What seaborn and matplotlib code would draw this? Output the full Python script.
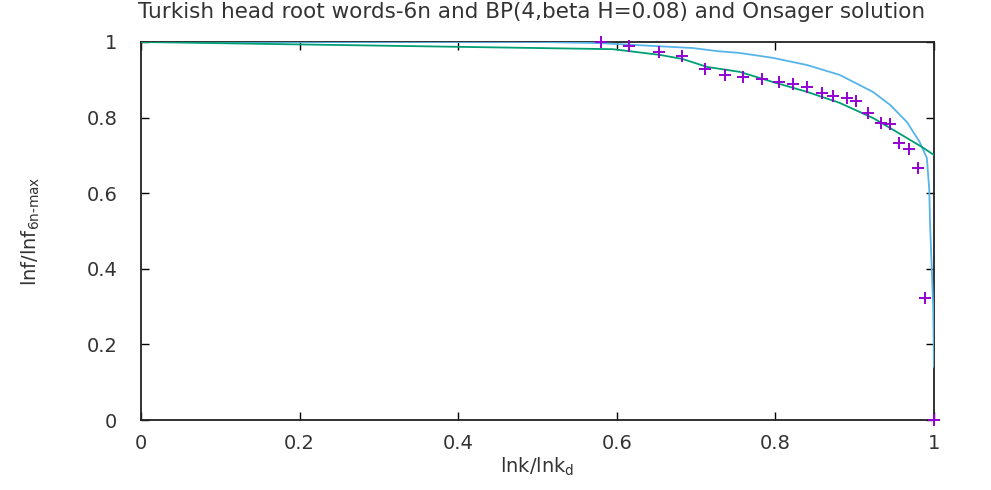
import matplotlib
matplotlib.use("Agg")
import matplotlib.pyplot as plt
import seaborn as sns
import pandas as pd

# Measured points: Turkish head root words (6n)
data_x = [0.580, 0.615, 0.653, 0.682, 0.711, 0.737, 0.759, 0.783, 0.805, 0.822,
          0.840, 0.859, 0.873, 0.890, 0.902, 0.917, 0.933, 0.945, 0.956, 0.968,
          0.980, 0.989, 1.000]
data_y = [1.000, 0.989, 0.974, 0.963, 0.929, 0.913, 0.907, 0.902, 0.894, 0.889,
          0.881, 0.865, 0.857, 0.852, 0.844, 0.812, 0.786, 0.783, 0.733, 0.717,
          0.667, 0.323, 0.000]

# Bethe-Peierls approximation, BP(4, beta H = 0.08)
bp_x = [0.0, 0.595, 0.654, 0.683, 0.714, 0.755, 0.797, 0.840, 0.881, 0.923,
        0.945, 0.985, 1.0]
bp_y = [1.0, 0.981, 0.966, 0.955, 0.934, 0.921, 0.894, 0.868, 0.839, 0.799,
        0.772, 0.722, 0.701]

# Onsager solution
ons_x = [0.0, 0.503, 0.579, 0.651, 0.696, 0.726, 0.755, 0.797, 0.840, 0.881,
         0.923, 0.945, 0.966, 0.982, 0.991, 0.994, 0.995, 0.999, 1.0]
ons_y = [1.0, 1.0, 0.997, 0.989, 0.984, 0.976, 0.971, 0.958, 0.939, 0.913,
         0.868, 0.833, 0.788, 0.735, 0.693, 0.61, 0.521, 0.299, 0.14]

x_ticks = [0, 0.2, 0.4, 0.6, 0.8, 1]
y_ticks = [0, 0.2, 0.4, 0.6, 0.8, 1]
x_tick_labels = ["0", "0.2", "0.4", "0.6", "0.8", "1"]
y_tick_labels = ["0", "0.2", "0.4", "0.6", "0.8", "1"]

title = "Turkish head root words-6n and BP(4,beta H=0.08) and Onsager solution"

sns.set_theme(style="ticks")
plt.rcParams["font.family"] = ["DejaVu Sans"]
plt.rcParams["mathtext.default"] = "regular"

fig = plt.figure(figsize=(9.91, 4.90), dpi=100)
ax = fig.add_axes([141 / 991, 1 - 420 / 490, (934 - 141) / 991, (420 - 42) / 490])

df_pts = pd.DataFrame({"x": data_x, "y": data_y})
df_bp = pd.DataFrame({"x": bp_x, "y": bp_y})
df_ons = pd.DataFrame({"x": ons_x, "y": ons_y})

sns.lineplot(data=df_ons, x="x", y="y", ax=ax, color="#56B4E9", linewidth=1.3,
             sort=False, estimator=None, zorder=2)
sns.lineplot(data=df_bp, x="x", y="y", ax=ax, color="#009E73", linewidth=1.3,
             sort=False, estimator=None, zorder=2.5)
sns.scatterplot(data=df_pts, x="x", y="y", ax=ax, marker="+", s=65,
                color="#9400D3", linewidth=1.4, zorder=3, clip_on=False)

ax.set_xlim(0, 1)
ax.set_ylim(0, 1)
ax.set_xticks(x_ticks)
ax.set_xticklabels(x_tick_labels)
ax.set_yticks(y_ticks)
ax.set_yticklabels(y_tick_labels)
ax.tick_params(direction="in", length=6, width=1, colors="black",
               top=True, right=True, labelsize=14, labelcolor="#333333")
ax.tick_params(axis="y", pad=17)
ax.tick_params(axis="x", pad=10)
for sp in ax.spines.values():
    sp.set_linewidth(1.3)
    sp.set_color("#222222")
    sp.set_zorder(1)

ax.set_xlabel("lnk/lnk$_d$", fontsize=14, color="#333333", labelpad=2)
ax.set_ylabel("lnf/lnf$_{6n\u2010max}$", fontsize=14, color="#333333", labelpad=32)

fig.text(532 / 991, 1 - 2 / 490, title, ha="center", va="top",
         fontsize=15.5, color="#333333")

fig.savefig("out.png", dpi=100)
